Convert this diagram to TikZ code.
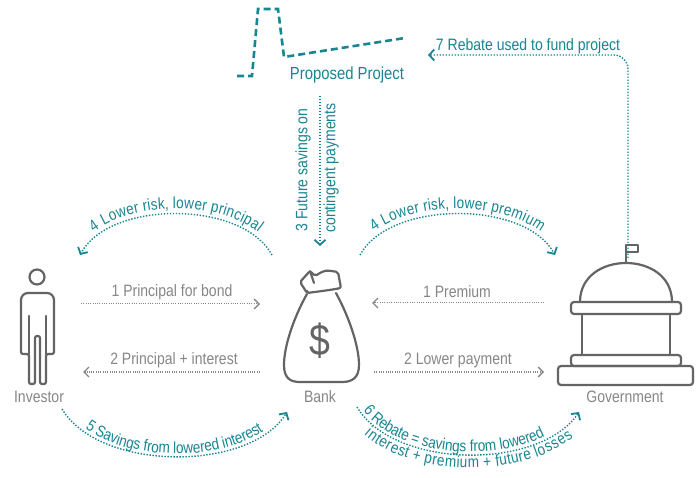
\documentclass[tikz,border=0pt]{standalone}
\usepackage{fontspec}
\setmainfont[FakeStretch=0.85]{Liberation Sans}
\usetikzlibrary{arrows.meta,decorations.text}
\definecolor{tealc}{RGB}{24,134,146}
\definecolor{labgray}{RGB}{135,135,135}
\definecolor{icongray}{RGB}{100,100,100}
\newcommand\labfont{\fontsize{16.5}{19}\selectfont}
\newcommand\curvfont{\fontsize{16}{19}\selectfont}
\begin{document}
\begin{tikzpicture}[x=1pt,y=-1pt,
  tdot/.style={draw=tealc,line width=1.4pt,dash pattern=on 1.4pt off 1.6pt},
  gdot/.style={draw=labgray,line width=1pt,dash pattern=on 1pt off 1.3pt},
  ttip/.style={-{Straight Barb[length=5pt,width=11pt,line width=1.8pt]}},
  gtip/.style={-{Straight Barb[length=5pt,width=10pt,line width=1.3pt]}},
  icon/.style={draw=icongray,line width=2.2pt,line join=round,line cap=round},
  glab/.style={text=labgray,font=\labfont,inner sep=0pt},
  tlab/.style={text=tealc,font=\labfont,inner sep=0pt},
  ilab/.style={text=labgray,font=\fontsize{16.5}{19}\selectfont,inner sep=0pt},
]
\useasboundingbox (0,0) rectangle (699,478);
\fill[white] (0,0) rectangle (699,478);

% ---------- Proposed project ----------
\draw[draw=tealc,line width=2.6pt,dash pattern=on 7pt off 4pt]
  (237,76) -- (252,76) -- (258,9) -- (278,9) -- (284,57) -- (405,38);
\node[tlab,font=\fontsize{17.5}{20}\selectfont] (projlab) at (347,75) {Proposed Project};

% ---------- Investor ----------
\draw[icon] (37,277) circle[radius=7.5pt];
\draw[icon] (21,354) [rounded corners=7pt] -- (21,293) -- (54,293) [rounded corners=2pt] -- (54,354)
  -- (46,354) -- (46,384) -- (40,384) -- (40,336) -- (35,336) -- (35,384) -- (29,384) -- (29,354) -- cycle;
\draw[icon] (29,354) -- (29,316);
\draw[icon] (46,354) -- (46,316);
\node[ilab] (invlab) at (39,397) {Investor};

% ---------- Bank ----------
\draw[icon] (307,294) .. controls (295,315) and (284,345) .. (284,365)
  .. controls (284,378) and (290,382) .. (300,382) -- (342,382)
  .. controls (352,382) and (359,378) .. (359,365)
  .. controls (359,345) and (348,315) .. (336,293);
\draw[icon,rounded corners=2pt] (307,293) -- (300,282) -- (310,271) -- (315,276)
  .. controls (325,270) .. (338,272) -- (341,288) .. controls (330,290) .. cycle;
\draw[icon] (310,271) -- (314,283);
\node[text=icongray,font=\fontsize{44}{48}\selectfont,inner sep=0pt] (dollar) at (320,341) {\$};
\node[ilab] (banklab) at (320,397) {Bank};

% ---------- Government ----------
\draw[icon,line width=1.6pt] (626,262) -- (626,245) -- (638,245) -- (638,252) -- (626,252);
\draw[icon] (580,302) .. controls (580,250) and (672,250) .. (672,302);
\draw[icon,rounded corners=3pt] (571,302) rectangle (681,314);
\draw[icon] (582,314) rectangle (670,355);
\draw[icon,rounded corners=3pt] (571,355) rectangle (681,366);
\draw[icon,rounded corners=3pt] (558,366) rectangle (693,385);
\node[ilab] (govlab) at (625,397) {Government};

% ---------- anchor coordinates ----------
\coordinate (inv1) at (81,304);
\coordinate (bankL1) at (260,304);
\coordinate (inv2) at (83,372);
\coordinate (bankL2) at (260,372);
\coordinate (bankR1) at (372,303);
\coordinate (gov1) at (544,303);
\coordinate (bankR2) at (374,372);
\coordinate (gov2) at (544,372);
\coordinate (projB) at (320,96);
\coordinate (bankT) at (320,246);
\coordinate (govT) at (628,258);
\coordinate (projR) at (428,55);
\coordinate (a4lA) at (80,255);
\coordinate (a4lB) at (272,255);
\coordinate (a4rA) at (360,255);
\coordinate (a4rB) at (555,255);
\coordinate (a5A) at (62,409);
\coordinate (a5B) at (287,412);
\coordinate (a6A) at (357,407);
\coordinate (a6B) at (579,412);

% ---------- gray arrows ----------
\draw[gdot,gtip] (inv1) -- (bankL1);
\node[glab] (l1) at (172,292) {1 Principal for bond};
\draw[gdot,gtip] (bankL2) -- (inv2);
\node[glab] (l2) at (174,360) {2 Principal + interest};
\draw[gdot,gtip] (gov1) -- (bankR1);
\node[glab] (l3) at (457,292) {1 Premium};
\draw[gdot,gtip] (bankR2) -- (gov2);
\node[glab] (l4) at (458,360) {2 Lower payment};

% ---------- teal arrows ----------
\draw[tdot,ttip] (projB) -- (bankT);
\node[tlab,rotate=90] (l3a) at (303,170) {3 Future savings on};
\node[tlab,rotate=90] (l3b) at (331,168) {contingent payments};

\draw[tdot,ttip,rounded corners=14pt] (govT) |- (projR);
\node[tlab] (l7) at (528,46) {7 Rebate used to fund project};

% 4 left
\draw[tdot,ttip] (a4lB) .. controls (242,200) and (110,200) .. (a4lA);
\path[decorate,decoration={text along path,text align=center,raise=5pt,
  text={|\curvfont\color{tealc}|4 Lower risk, lower principal}}]
  (a4lA) .. controls (110,200) and (242,200) .. (a4lB);

% 4 right
\draw[tdot,ttip] (a4rA) .. controls (390,200) and (525,200) .. (a4rB);
\path[decorate,decoration={text along path,text align=center,raise=5pt,
  text={|\curvfont\color{tealc}|4 Lower risk, lower premium}}]
  (a4rA) .. controls (390,200) and (525,200) .. (a4rB);

% 5
\draw[tdot,ttip] (a5A) .. controls (100,472) and (250,472) .. (a5B);
\path[decorate,decoration={text along path,text align=center,raise=3pt,
  text={|\curvfont\color{tealc}|5 Savings from lowered interest}}]
  (a5A) .. controls (100,472) and (250,472) .. (a5B);

% 6
\draw[tdot,ttip] (a6A) .. controls (395,470) and (540,470) .. (a6B);
\path[decorate,decoration={text along path,text align={left indent=7pt},raise=3pt,
  text={|\curvfont\color{tealc}|6 Rebate = savings from lowered}}]
  (a6A) .. controls (395,470) and (540,470) .. (a6B);
\path[decorate,decoration={text along path,text align={right indent=20pt},text align=right,raise=-13pt,
  text={|\curvfont\color{tealc}|interest + premium + future losses}}]
  (a6A) .. controls (395,470) and (540,470) .. (a6B);
\end{tikzpicture}
\end{document}
